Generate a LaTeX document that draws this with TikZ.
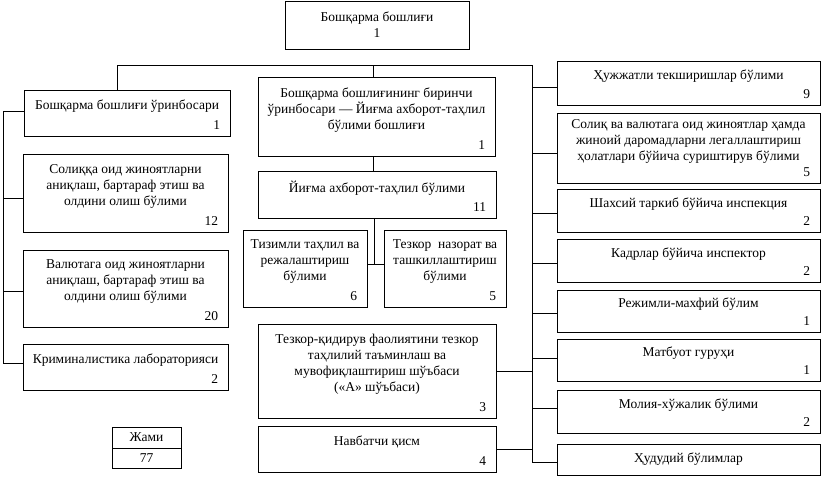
\documentclass[tikz,border=0pt]{standalone}
\usepackage{fontspec}
\setmainfont{Liberation Serif}
\tikzset{
  box/.style={draw, align=center, inner sep=0pt},
  num/.style={anchor=south east, inner xsep=10pt, inner ysep=6.5pt}
}
\begin{document}
\begin{tikzpicture}[x=1pt, y=-1pt, line width=0.8pt,
    every node/.style={font=\fontsize{13.5}{16}\selectfont}]
  \useasboundingbox (0,0) rectangle (822,477);
  % top
  \node[box, minimum width=184, minimum height=48] (boss) at (377,25) {Бошқарма бошлиғи\\1};
  % left column
  \node[box, minimum width=206, minimum height=46, label={[num]south east:1}] (zam) at (127,113)
    {Бошқарма бошлиғи ўринбосари\\\mbox{}};
  \node[box, minimum width=205, minimum height=78, label={[num]south east:12}] (soliq) at (125.5,193)
    {Солиққа оид жиноятларни\\аниқлаш, бартараф этиш ва\\олдини олиш бўлими\\\mbox{}};
  \node[box, minimum width=205, minimum height=77, label={[num]south east:20}] (valyuta) at (125.5,288.5)
    {Валютага оид жиноятларни\\аниқлаш, бартараф этиш ва\\олдини олиш бўлими\\\mbox{}};
  \node[box, minimum width=205, minimum height=46, label={[num]south east:2}] (krim) at (125.5,367)
    {Криминалистика лабораторияси\\\mbox{}};
  \node[box, minimum width=69, minimum height=21] (jami) at (146.5,437.5) {Жами};
  \node[box, minimum width=69, minimum height=20] (jamisoni) at (146.5,458) {77};
  % middle column
  \node[box, minimum width=237, minimum height=79, label={[num]south east:1}] (birinchi) at (376.5,116.5)
    {Бошқарма бошлиғининг биринчи\\ўринбосари — Йиғма ахборот-таҳлил\\бўлими бошлиғи\\\mbox{}};
  \node[box, minimum width=238, minimum height=47, label={[num]south east:11}] (yigma) at (377,194.5)
    {Йиғма ахборот-таҳлил бўлими\\\mbox{}};
  \node[box, minimum width=124, minimum height=77, label={[num]south east:6}] (tizim) at (305,268.5)
    {Тизимли таҳлил ва\\режалаштириш\\бўлими\\\mbox{}};
  \node[box, minimum width=122, minimum height=77, label={[num]south east:5}] (nazorat) at (445,268.5)
    {Тезкор\ \ назорат ва\\ташкиллаштириш\\бўлими\\\mbox{}};
  \node[box, minimum width=238, minimum height=94, label={[num]south east:3}] (qidiruv) at (377,371)
    {Тезкор-қидирув фаолиятини тезкор\\таҳлилий таъминлаш ва\\мувофиқлаштириш шўъбаси\\(«А» шўъбаси)\\\mbox{}};
  \node[box, minimum width=238, minimum height=46, label={[num]south east:4}] (navbat) at (377,449)
    {Навбатчи қисм\\\mbox{}};
  % right column
  \node[box, minimum width=263, minimum height=44, label={[num]south east:9}] (hujjat) at (688.5,83)
    {Ҳужжатли текширишлар бўлими\\\mbox{}};
  \node[box, minimum width=263, minimum height=70, label={[num]south east:5}] (soliqv) at (688.5,148)
    {Солиқ ва валютага оид жиноятлар ҳамда\\жиноий даромадларни легаллаштириш\\ҳолатлари бўйича суриштирув бўлими\\\mbox{}};
  \node[box, minimum width=263, minimum height=43, label={[num]south east:2}] (shaxsiy) at (688.5,210.5)
    {Шахсий таркиб бўйича инспекция\\\mbox{}};
  \node[box, minimum width=263, minimum height=43, label={[num]south east:2}] (kadr) at (688.5,260.5)
    {Кадрлар бўйича инспектор\\\mbox{}};
  \node[box, minimum width=263, minimum height=42, label={[num]south east:1}] (rejim) at (688.5,311)
    {Режимли-махфий бўлим\\\mbox{}};
  \node[box, minimum width=263, minimum height=42, label={[num]south east:1}] (matbuot) at (688.5,360)
    {Матбуот гуруҳи\\\mbox{}};
  \node[box, minimum width=263, minimum height=43, label={[num]south east:2}] (moliya) at (688.5,411.5)
    {Молия-хўжалик бўлими\\\mbox{}};
  \node[box, minimum width=263, minimum height=31] (hudud) at (688.5,459.5) {Ҳудудий бўлимлар};
  % connectors
  \coordinate (bar) at (117,65);
  \coordinate (trunk) at (532,65);
  \coordinate (spine) at (3,111);
  \draw (bar) -- (trunk) -- (532,462);
  \draw (bar) -- (bar |- zam.north);
  \draw (373,65) -- (373,65 |- birinchi.north);
  \draw (birinchi.south -| 373,0) -- (yigma.north -| 373,0);
  \draw (yigma.south -| 374,0) -- (374,264);
  \draw (tizim.east |- 0,264) -- (nazorat.west |- 0,264);
  \draw (spine) -- (3,363);
  \draw (spine) -- (zam.west |- spine);
  \foreach \n/\y in {soliq/198, valyuta/291, krim/363}
    \draw (3,\y) -- (\n.west |- 0,\y);
  \foreach \n/\y in {hujjat/87, soliqv/153, shaxsiy/213, kadr/263, rejim/313, matbuot/358, moliya/408, hudud/462}
    \draw (532,\y) -- (\n.west |- 0,\y);
  \draw (qidiruv.east) -- (trunk |- qidiruv.east);
  \draw (navbat.east) -- (trunk |- navbat.east);
\end{tikzpicture}
\end{document}
